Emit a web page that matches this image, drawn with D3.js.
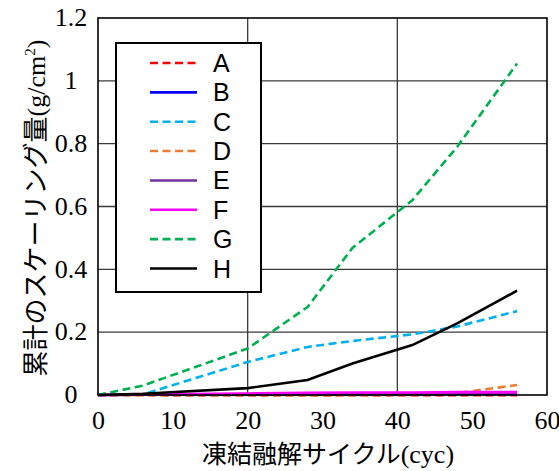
<!DOCTYPE html>
<html>
<head>
<meta charset="utf-8">
<script src="https://cdn.jsdelivr.net/npm/d3@7"></script>
<style>
  body { margin: 0; background: #fff; }
</style>
</head>
<body>
<svg width="559" height="471"></svg>
<script>
// freeze-thaw cycles
var cycles = [0, 6, 20, 28, 34, 42, 48, 56];

var seriesNames = ["A", "B", "C", "D", "E", "F", "G", "H"];
var seriesA = [0, 0, -0.001, -0.001, -0.001, -0.001, -0.001, -0.001];
var seriesB = [0, 0.001, 0.002, 0.002, 0.002, 0.002, 0.003, 0.003];
var seriesC = [0, 0.002, 0.105, 0.153, 0.172, 0.193, 0.218, 0.267];
var seriesD = [0, -0.001, -0.001, -0.001, 0, 0.001, 0.006, 0.032];
var seriesE = [0, 0.001, 0.003, 0.004, 0.005, 0.005, 0.006, 0.007];
var seriesF = [0, 0.002, 0.005, 0.007, 0.008, 0.008, 0.009, 0.009];
var seriesG = [0, 0.03, 0.148, 0.28, 0.468, 0.62, 0.79, 1.055];
var seriesH = [0, 0.004, 0.022, 0.048, 0.1, 0.159, 0.228, 0.332];

var xTicks = [0, 10, 20, 30, 40, 50, 60];
var yTicks = [0, 0.2, 0.4, 0.6, 0.8, 1, 1.2];
var xGrid = [20, 40];
var yGrid = [0.2, 0.4, 0.6, 0.8, 1];

var allSeries = [seriesA, seriesB, seriesC, seriesD, seriesE, seriesF, seriesG, seriesH];
var colors = ["#ff0000", "#0000ff", "#00b0f0", "#ed7d31", "#7030a0", "#ff00ff", "#00b050", "#000000"];
var dashed = [true, false, true, true, false, false, true, false];

var serif = "'Liberation Serif', 'Times New Roman', serif";
var cjk = "'Noto Sans CJK JP', sans-serif";

var drawChart = function()
{
  var svg = d3.select("svg");

  var plotLeft = 98, plotRight = 547, plotTop = 18, plotBottom = 395;

  var xScale = d3.scaleLinear().domain([0, 60]).range([plotLeft, plotRight]);
  var yScale = d3.scaleLinear().domain([0, 1.2]).range([plotBottom, plotTop]);

  // grid
  svg.append("g")
    .selectAll("line")
    .data(yGrid)
    .join("line")
    .attr("x1", plotLeft).attr("x2", plotRight)
    .attr("y1", function(d){ return yScale(d); })
    .attr("y2", function(d){ return yScale(d); })
    .attr("stroke", "#3a3a3a")
    .attr("stroke-width", 1.3);

  svg.append("g")
    .selectAll("line")
    .data(xGrid)
    .join("line")
    .attr("y1", plotTop).attr("y2", plotBottom)
    .attr("x1", function(d){ return xScale(d); })
    .attr("x2", function(d){ return xScale(d); })
    .attr("stroke", "#3a3a3a")
    .attr("stroke-width", 1.3);

  // tick labels
  var xAxis = d3.axisBottom(xScale).tickValues(xTicks).tickSize(0).tickPadding(16);
  var yAxis = d3.axisLeft(yScale).tickValues(yTicks).tickSize(0).tickFormat(function(d){ return String(d); });

  var gx = svg.append("g")
    .attr("transform", "translate(0," + plotBottom + ")")
    .call(xAxis);
  gx.select(".domain").remove();
  gx.selectAll("text")
    .style("font-family", serif)
    .style("font-size", "26px")
    .attr("fill", "#000");

  var gy = svg.append("g")
    .attr("transform", "translate(71,0)")
    .call(yAxis);
  gy.select(".domain").remove();
  gy.selectAll("text")
    .attr("x", 0)
    .attr("dy", "0.3em")
    .attr("text-anchor", "middle")
    .style("font-family", serif)
    .style("font-size", "26px")
    .attr("fill", "#000");

  // lines
  var drawLine = d3.line()
    .x(function(d, i){ return xScale(cycles[i]); })
    .y(function(d){ return yScale(d); });

  svg.append("g")
    .selectAll("path")
    .data(allSeries)
    .join("path")
    .attr("d", drawLine)
    .attr("fill", "none")
    .attr("stroke", function(d, i){ return colors[i]; })
    .attr("stroke-width", 2.6)
    .attr("stroke-dasharray", function(d, i){ return dashed[i] ? "8,4.5" : null; });

  // plot frame
  svg.append("rect")
    .attr("x", plotLeft).attr("y", plotTop)
    .attr("width", plotRight - plotLeft).attr("height", plotBottom - plotTop)
    .attr("fill", "none")
    .attr("stroke", "#000")
    .attr("stroke-width", 1.6);

  // legend
  var legend = svg.append("g");
  legend.append("rect")
    .attr("x", 116).attr("y", 43)
    .attr("width", 145).attr("height", 249)
    .attr("fill", "#fff")
    .attr("stroke", "#000")
    .attr("stroke-width", 2);

  var legendY = d3.scalePoint().domain(seriesNames).range([63, 268.5]);

  var items = legend.selectAll(".item")
    .data(seriesNames)
    .join("g")
    .attr("class", "item")
    .attr("transform", function(d){ return "translate(0," + legendY(d) + ")"; });

  items.append("line")
    .attr("x1", 150).attr("x2", 197)
    .attr("stroke", function(d, i){ return colors[i]; })
    .attr("stroke-width", 2.6)
    .attr("stroke-dasharray", function(d, i){ return dashed[i] ? "8,4.5" : null; });

  items.append("text")
    .attr("x", 213)
    .attr("dy", "0.36em")
    .style("font-family", "'Liberation Sans', Arial, sans-serif")
    .style("font-size", "25px")
    .attr("fill", "#000")
    .text(function(d){ return d; });

  // axis titles
  var xt = svg.append("text")
    .attr("x", 328).attr("y", 463)
    .attr("text-anchor", "middle")
    .style("font-size", "25px")
    .attr("fill", "#000");
  xt.append("tspan").style("font-family", cjk).text("凍結融解サイクル");
  xt.append("tspan").style("font-family", serif).style("font-size", "26px").text("(cyc)");

  var yt = svg.append("text")
    .attr("transform", "translate(45,208) rotate(-90)")
    .attr("text-anchor", "middle")
    .style("font-size", "26px")
    .attr("fill", "#000");
  yt.append("tspan").style("font-family", cjk).text("累計のスケーリング量");
  yt.append("tspan").style("font-family", serif).text("(g/cm");
  yt.append("tspan").style("font-family", serif).style("font-size", "15px").attr("dy", -10).text("2");
  yt.append("tspan").style("font-family", serif).attr("dy", 10).text(")");
}

drawChart();
</script>
</body>
</html>
